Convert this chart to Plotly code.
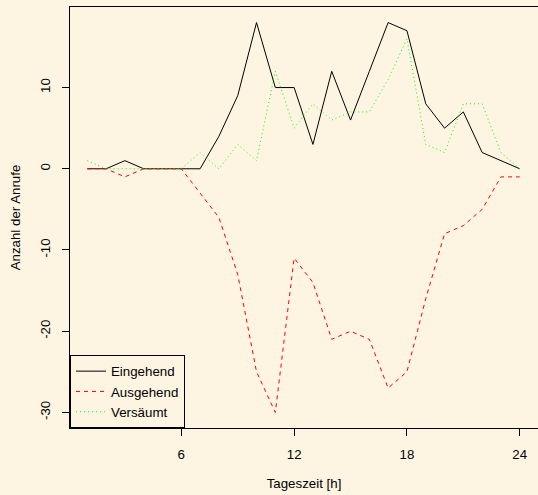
import plotly.graph_objects as go

stunden = list(range(1, 25))
eingehend = [0, 0, 1, 0, 0, 0, 0, 4, 9, 18, 10, 10, 3, 12, 6, 12, 18, 17, 8, 5, 7, 2, 1, 0]
ausgehend = [0, 0, -1, 0, 0, 0, -3, -6, -13, -25, -30, -11, -14, -21, -20, -21, -27, -25, -16, -8, -7, -5, -1, -1]
versaeumt = [1, 0, 0, 0, 0, 0, 2, 0, 3, 1, 12, 5, 8, 6, 7, 7, 11, 16, 3, 2, 8, 8, 2, 0]
x_ticks = [6, 12, 18, 24]
y_ticks = [-30, -20, -10, 0, 10]

bg = "#FDF5E2"
font = "Liberation Sans, Arial, sans-serif"
fs = 13.3

fig = go.Figure()
fig.add_trace(go.Scatter(x=stunden, y=eingehend, mode="lines", name="Eingehend",
                         line=dict(color="black", width=1)))
fig.add_trace(go.Scatter(x=stunden, y=ausgehend, mode="lines", name="Ausgehend",
                         line=dict(color="#FF0000", width=1, dash="4px,4px")))
fig.add_trace(go.Scatter(x=stunden, y=versaeumt, mode="lines", name="Versäumt",
                         line=dict(color="#00FF00", width=1, dash="1px,3px")))

fig.update_layout(
    width=538, height=495,
    margin=dict(l=70, r=0, t=7, b=67, pad=0),
    paper_bgcolor=bg, plot_bgcolor=bg,
    font=dict(family=font, size=fs, color="black"),
    showlegend=True,
    legend=dict(x=0, y=0, xanchor="left", yanchor="bottom",
                bgcolor=bg, bordercolor="black", borderwidth=1,
                font=dict(size=fs), tracegroupgap=0, itemwidth=30),
    xaxis=dict(range=[0.08, 24.97], tickvals=x_ticks, ticktext=[str(v) for v in x_ticks],
               showgrid=False, zeroline=False, showline=True, linecolor="black", linewidth=1,
               mirror=True, ticks="outside", ticklen=7, tickcolor="black", automargin=False,
               tickfont=dict(size=fs),
               title=dict(text="Tageszeit [h]", standoff=17, font=dict(size=fs)),
               ticklabelstandoff=7),
    yaxis=dict(range=[-31.92, 19.92], tickvals=y_ticks, ticktext=[str(v) for v in y_ticks],
               showgrid=False, zeroline=False, showline=True, linecolor="black", linewidth=1,
               mirror=True, ticks="outside", ticklen=7, tickcolor="black", tickangle=-90,
               automargin=False, tickfont=dict(size=fs),
               title=dict(text="Anzahl der Anrufe", standoff=14, font=dict(size=fs)),
               ticklabelstandoff=7),
)

fig.write_html("out.html", config={"displayModeBar": False},
               post_script="document.body.style.margin='0';document.body.style.background='%s';" % bg)
